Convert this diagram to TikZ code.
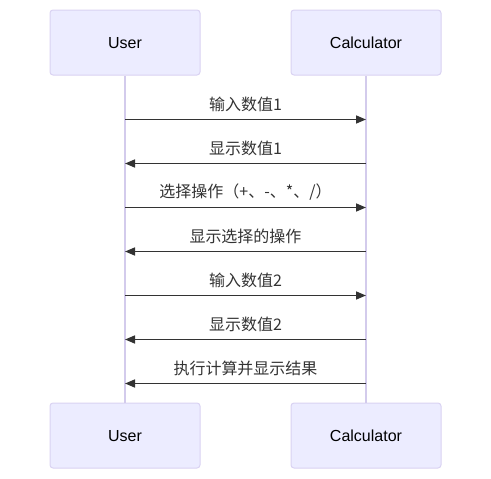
\documentclass[tikz,border=0pt]{standalone}
\usepackage{fontspec}
\setmainfont{Liberation Sans}
\newfontfamily\cjk{Noto Sans CJK SC}
\usetikzlibrary{arrows.meta}
\definecolor{actorfill}{HTML}{ECECFF}
\definecolor{actorline}{HTML}{D9D2F2}
\definecolor{lifeline}{HTML}{D3CBEC}
\definecolor{msgline}{HTML}{333333}

\begin{document}
\begin{tikzpicture}[x=1pt,y=-1pt,
  actor/.style={draw=actorline,line width=1pt,fill=actorfill,rounded corners=3pt,
    minimum width=150pt,minimum height=65pt,text height=12pt,text depth=0pt,
    font=\fontsize{16}{19}\selectfont,text=black},
  life/.style={draw=lifeline,line width=1.5pt},
  msg/.style={draw=msgline,line width=1.6pt,-{Triangle[length=10pt,width=8pt]}},
  msglabel/.style={font=\cjk\fontsize{16}{19}\selectfont,text=msgline,yshift=15pt}]
\useasboundingbox (0,0) rectangle (491,479);

% actors
\node[actor] (userTop) at (125,42.5) {User};
\node[actor] (calcTop) at (366,42.5) {Calculator};
\node[actor] (userBot) at (125,435.5) {User};
\node[actor] (calcBot) at (366,435.5) {Calculator};

% lifelines
\draw[life] (userTop.south) -- (userBot.north);
\draw[life] (calcTop.south) -- (calcBot.north);

% messages
\foreach \i/\from/\to/\txt in {1/u/c/{输入数值1}, 2/c/u/{显示数值1},
    3/u/c/{选择操作（+、-、*、/）}, 4/c/u/{显示选择的操作}, 5/u/c/{输入数值2},
    6/c/u/{显示数值2}, 7/c/u/{执行计算并显示结果}} {
  \path (userTop.south) ++(0,44*\i) coordinate (u\i);
  \path (calcTop.south) ++(0,44*\i) coordinate (c\i);
  \draw[msg] (\from\i) -- (\to\i) node[midway,msglabel] {\txt};
}
\end{tikzpicture}
\end{document}
